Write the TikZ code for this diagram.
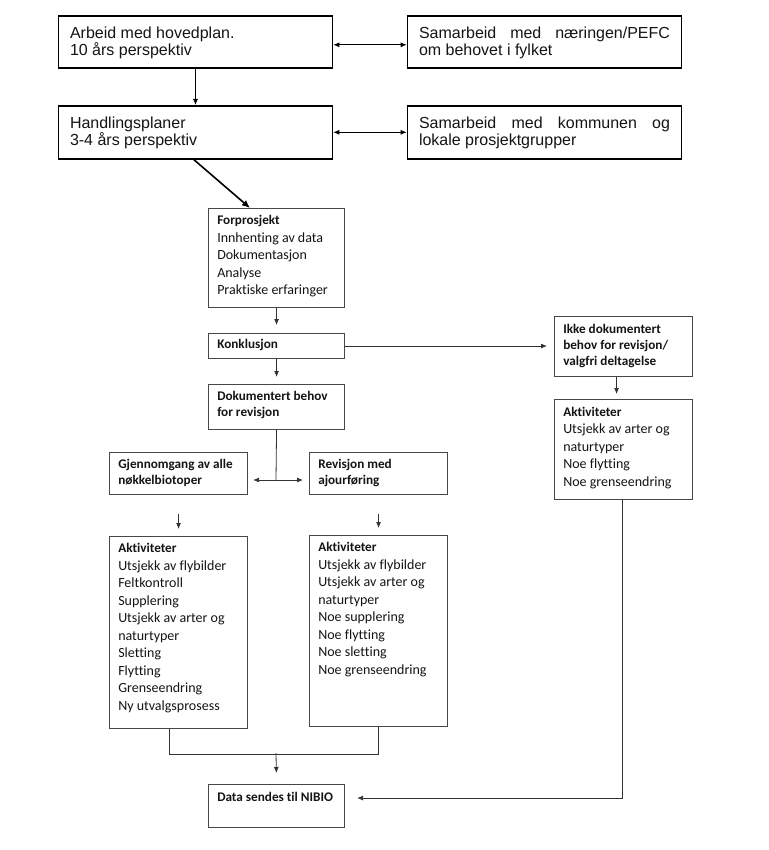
\documentclass[tikz,border=0pt]{standalone}
\usepackage{fontspec}
\setmainfont{Liberation Sans}
\newfontfamily\calfont[Ligatures=NoCommon]{Carlito}
\usetikzlibrary{arrows.meta}
\hbadness=10000
\hfuzz=20pt
\vbadness=10000
\newcommand{\btxt}[4]{\parbox[c][#2][t]{#1}{\raggedright\rule{0pt}{#3}#4}}
\newcommand{\jtxt}[4]{\parbox[c][#2][t]{#1}{\rule{0pt}{#3}#4}}
\newcommand{\bh}[1]{{\fontsize{13.2}{16}\selectfont\bfseries #1}}
\begin{document}
\begin{tikzpicture}[x=1pt,y=-1pt,
  topbox/.style={draw=black, line width=1.6pt, inner xsep=11.5pt, inner ysep=0pt, anchor=north west,
    font=\fontsize{16}{17.7}\selectfont, text=black!92},
  lowbox/.style={draw=black!72, line width=1.1pt, inner xsep=8.7pt, inner ysep=0pt, anchor=north west,
    font=\calfont\fontsize{14}{17.4}\selectfont, text=black!92},
  lowboxb/.style={lowbox, font=\calfont\bfseries\fontsize{13.2}{16}\selectfont},
  topconn/.style={draw=black, line width=0.8pt},
  conn/.style={draw=black!80, line width=0.8pt},
  tip/.style={-{Latex[length=6pt,width=5pt]}},
  arr/.style={conn, tip},
  darr/.style={topconn, {Latex[length=6pt,width=5pt]}-{Latex[length=6pt,width=5pt]}}
]
\useasboundingbox (0,0) rectangle (768,850);

% top row
\node[topbox] (hp) at (57.7,15) {\btxt{251pt}{52pt}{22.3pt}{Arbeid med hovedplan.\\10 års perspektiv}};
\node[topbox] (sn) at (406.7,15) {\jtxt{251pt}{52pt}{22.3pt}{Samarbeid med næringen/PEFC\linebreak om behovet i fylket}};
\node[topbox] (hl) at (57.7,105) {\btxt{251pt}{53pt}{22.3pt}{Handlingsplaner\\3-4 års perspektiv}};
\node[topbox] (sk) at (406.7,105) {\jtxt{251pt}{53pt}{22.3pt}{Samarbeid med kommunen og\linebreak lokale prosjektgrupper}};

% middle column
\node[lowbox] (fp) at (208,208) {\btxt{118.6pt}{99pt}{16.3pt}{\bh{Forprosjekt}\\Innhenting av data\\Dokumentasjon\\Analyse\\Praktiske erfaringer}};
\node[lowboxb] (ko) at (208,333) {\btxt{118.6pt}{25pt}{15.3pt}{Konklusjon}};
\node[lowboxb] (db) at (208,384) {\btxt{118.6pt}{45pt}{16pt}{Dokumentert behov\\for revisjon}};
\node[lowboxb] (gj) at (109,452) {\btxt{120.6pt}{42pt}{16.3pt}{Gjennomgang av alle\\nøkkelbiotoper}};
\node[lowboxb] (rv) at (309,452) {\btxt{120.6pt}{42pt}{16.3pt}{Revisjon med\\ajourføring}};
\node[lowbox, font=\calfont\fontsize{14}{17.5}\selectfont] (a1) at (109,536) {\btxt{120.6pt}{192pt}{16pt}{\bh{Aktiviteter}\\Utsjekk av flybilder\\Feltkontroll\\Supplering\\Utsjekk av arter og\\naturtyper\\Sletting\\Flytting\\Grenseendring\\Ny utvalgsprosess}};
\node[lowbox, font=\calfont\fontsize{14}{17.5}\selectfont] (a2) at (309,535) {\btxt{120.6pt}{191pt}{16pt}{\bh{Aktiviteter}\\Utsjekk av flybilder\\Utsjekk av arter og\\naturtyper\\Noe supplering\\Noe flytting\\Noe sletting\\Noe grenseendring}};
\node[lowboxb] (ds) at (208,784) {\btxt{118.6pt}{43pt}{17pt}{Data sendes til NIBIO}};

% right column
\node[lowboxb] (ik) at (554,316) {\btxt{120.6pt}{60pt}{16.7pt}{Ikke dokumentert\\behov for revisjon/\\valgfri deltagelse}};
\node[lowbox] (a3) at (554,399) {\btxt{120.6pt}{100pt}{17pt}{\bh{Aktiviteter}\\Utsjekk av arter og\\naturtyper\\Noe flytting\\Noe grenseendring}};

% connectors top
\draw[topconn, tip] (hp.south) -- (hl.north);
\draw[darr] ([yshift=-3pt]hp.east) -- ([yshift=-3pt]sn.west);
\draw[darr] (hl.east) -- (sk.west);
\draw[draw=black, line width=1.6pt, -{Latex[length=8pt,width=7pt]}] ([xshift=-1.7pt]hl.south) -- ([xshift=42pt]fp.north west);

% connectors middle
\draw[arr, shorten >=8pt] (fp.south) -- (ko.north);
\draw[arr, shorten >=7pt] (ko.south) -- (db.north);
\draw[arr, shorten >=7pt] (ko.east) -- (ik.west |- ko.east);
\coordinate (sp) at (276,480);
\draw[conn] (db.south) -- (sp);
\draw[arr, shorten >=5pt] (sp) -- (gj.east |- sp);
\draw[arr, shorten >=6pt] (sp) -- (rv.west |- sp);
\draw[arr, shorten <=19pt, shorten >=7pt] (gj.south) -- (a1.north);
\draw[arr, shorten <=19pt, shorten >=7pt] (rv.south) -- (a2.north);
\draw[arr, shorten >=5pt] ([xshift=-7pt]ik.south) -- ([xshift=-7pt]a3.north);

% merge to data
\coordinate (m) at (276,753);
\draw[conn] ([xshift=-9pt]a1.south) -- ++(0,25) -| (a2.south);
\draw[arr, shorten >=11pt] (m) -- (ds.north);
\draw[arr, shorten >=12pt] ([xshift=-1pt]a3.south) |- ([yshift=8pt]ds.east);
\end{tikzpicture}
\end{document}
